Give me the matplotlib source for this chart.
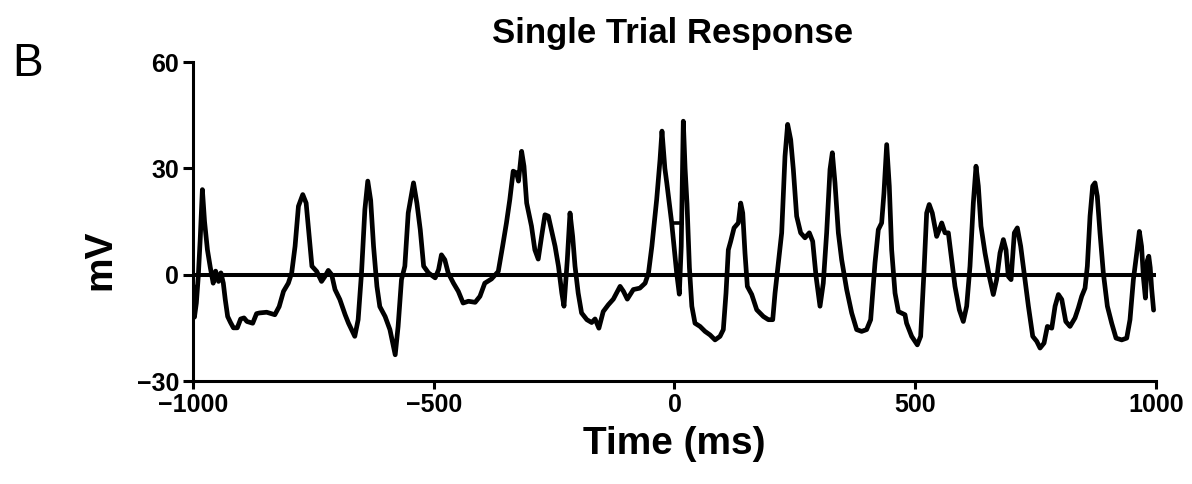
import matplotlib
matplotlib.use("Agg")
import matplotlib.pyplot as plt

plt.rcParams['font.family'] = ['Liberation Sans', 'DejaVu Sans']

# Membrane potential trace of one trial (time in ms, potential in mV)
time_ms = [
    -1000, -997, -993, -989, -985, -980.5, -976, -970, -964, -958, -953, -947,
    -942, -937, -933, -928, -922, -916, -908, -901, -894, -888, -876, -868,
    -862, -847, -830, -821, -812, -802, -795, -788, -781, -772, -765, -758,
    -753, -743, -733, -726, -719, -712, -705, -695, -684, -677, -664, -657,
    -650, -643, -637, -631, -625, -618, -612, -601, -591, -580, -574, -567,
    -560, -553, -542, -535, -528, -521, -511, -497, -490, -484, -477, -470,
    -459, -449, -439, -428, -414, -404, -394, -380, -366, -357, -349, -342,
    -335, -328, -324, -317.5, -312.6, -307, -297, -290, -283, -276, -269,
    -262, -255, -248, -241, -234, -229.5, -222.6, -217, -211.5, -206.6,
    -200, -193, -182, -172, -165, -157, -148, -137.5, -127, -113, -106,
    -98, -85.5, -72, -61, -54, -47, -37, -30, -26, -20, -16, -5.8, 4.5,
    10, 14, 18.3, 22, 26, 31, 36, 42.6, 53, 63.4, 73.8, 84.2, 94.5, 101.4,
    107, 111.8, 116.7, 123.7, 132.6, 137.5, 141.7, 146.4, 151.3, 160.4,
    170.8, 184.6, 195, 204, 208.8, 215.7, 222.6, 229.5, 235, 241.3, 246.8,
    253.7, 262, 271, 280, 287, 294, 302.2, 309, 316, 323, 327.8, 333.3,
    340.3, 347.2, 357.6, 368, 378.3, 388.7, 399, 407.4, 416.4, 423.3,
    430.2, 435, 440.7, 446.1, 451, 458, 465, 478.7, 482, 492.6, 504.3,
    511.2, 518, 523.7, 529, 535.4, 544.5, 550, 555, 561.8, 568.7, 575.6,
    582.5, 591.5, 599.8, 606.8, 613.7, 620.6, 626.2, 631, 636.5, 644.9,
    653.8, 662.1, 669, 676, 683, 688.5, 693.3, 699, 705.8, 712, 719, 726,
    735, 744, 752.3, 759.2, 767.5, 774.4, 783.5, 790.4, 797.3, 804.3,
    812.6, 821.4, 831.8, 838.7, 845.7, 852.6, 857.4, 863, 868.5, 873.3,
    878.1, 883.7, 890.6, 899, 908, 917, 928.8, 939.2, 946, 953, 960, 965.4,
    970, 974, 978, 982, 985, 988, 991, 995,
]
potential_mv = [
    -3, -12, -8, -0.5, 10, 24, 15, 7, 2, -2.4, 1, -1.9,
    0.5, -2.4, -7, -11.8, -13.5, -15, -15, -12.5, -12.2, -13.2, -13.7, -11,
    -10.8, -10.6, -11.3, -9, -4.7, -2.4, 0.5, 8, 19.3, 22.6, 20.2, 9.9,
    2.4, 0.9, -1.9, -0.5, 1.2, 0, -4.2, -7, -11.3, -13.7, -17.4, -12.7,
    0.5, 18.4, 26.4, 21, 8, -3.3, -9, -11.8, -15.5, -22.6, -14.6, -1.4,
    2.4, 17.4, 25.9, 20.2, 12.7, 2.4, 0.5, -0.9, 1.4, 5.6, 4.2, 0.5,
    -2.4, -4.7, -8, -7.5, -7.8, -6.1, -2.4, -1.2, 0.9, 8, 14.6, 21.2,
    29.2, 28.7, 26.4, 34.8, 30.6, 20.2, 13.7, 7, 4.4, 10.8, 16.9,
    16.5, 12.2, 8, 2.4, -5.2, -8.9, 4.2, 17.4, 10.8, 2.4,
    -5.2, -10.8, -12.7, -13.5, -12.5, -15.1, -10.4, -8.5, -6.9, -3.3, -4.7,
    -6.9, -4.2, -3.8, -2.4, 0.5, 8, 21.2, 32.5, 40.5, 30, 25.9, 14.6, 0.5,
    -5.5, 8, 43.3, 30, 20, 2, -8.9, -13.7, -14.6, -16, -17, -18.4, -17.4, -15.5,
    -5.2, 7, 9.4, 13.2, 14.6, 20.2, 17.4, 6.1, -3.3, -5.6,
    -9.9, -11.8, -12.7, -12.7, -5.2, 3.3, 11.8, 33.4, 42.4, 38.1, 29.7,
    16.5, 11.8, 10.4, 11.8, 9.4, -0.5, -8.9, -2.4, 11.8, 29.7, 34.4, 25.9,
    11.8, 4.2, -4.2, -10.8, -15.5, -16, -15.5, -12.7, 3.3, 12.7,
    14.6, 23, 36.7, 25, 7, -5.2, -10.4, -11.3, -13.7, -17.4, -19.8,
    -17.4, 0.5, 17.4, 19.8, 17.4, 10.8, 12.7, 14.6, 11.8, 11.8, 4.2,
    -3.3, -9.9, -13.2, -8.9, 2.4, 20.2, 30.6, 25, 13.7, 6.1,
    -0.5, -5.6, -1.4, 6.1, 9.9, 7, -0.5, -1.4, 11.8, 13.2, 8, 0.5,
    -8.9, -17.4, -18.8, -20.7, -19.3, -14.6, -15.1, -8.9, -5.6, -7,
    -13.2, -14.6, -12.2, -9.4, -6.1, -3.8, 2.4, 16.5, 25, 25.9,
    22.1, 11.8, 0.5, -8.9, -13.7, -17.9, -18.4, -17.9, -12.7, -1.4, 6.1, 12.2,
    8, -1, -6.6, 4, 5.2, 2, -4, -10,
]

# Short horizontal connector recorded just after stimulus onset
bridge_ms = [-5.8, 14.8]
bridge_mv = [14.6, 14.6]

x_ticks = [-1000, -500, 0, 500, 1000]
x_tick_labels = ['\u22121000', '\u2212500', '0', '500', '1000']
y_ticks = [-30, 0, 30, 60]
y_tick_labels = ['\u221230', '0', '30', '60']

fig = plt.figure(figsize=(11.92, 4.84), dpi=100)
ax = fig.add_axes([0.1619, 0.2128, 0.8079, 0.6591])

ax.axhline(0, color='black', lw=2.9, zorder=2)
ax.plot(time_ms, potential_mv, color='black', lw=3.4,
        solid_joinstyle='round', solid_capstyle='round', zorder=3)
ax.plot(bridge_ms, bridge_mv, color='black', lw=2.6, zorder=3)

ax.set_xlim(-1000, 1000)
ax.set_ylim(-30, 60)
ax.set_xticks(x_ticks)
ax.set_xticklabels(x_tick_labels)
ax.set_yticks(y_ticks)
ax.set_yticklabels(y_tick_labels)

for side in ('top', 'right'):
    ax.spines[side].set_visible(False)
for side in ('left', 'bottom'):
    ax.spines[side].set_linewidth(2.2)

ax.tick_params(direction='out', width=2.2, labelsize=18)
ax.tick_params(axis='x', length=6, pad=2.5)
ax.tick_params(axis='y', length=7, pad=3)
for lbl in ax.get_xticklabels() + ax.get_yticklabels():
    lbl.set_fontweight('bold')

ax.set_xlabel('Time (ms)', fontsize=28, fontweight='bold')
ax.set_ylabel('mV', fontsize=28, fontweight='bold')
ax.yaxis.set_label_coords(-0.077, 0.38)
ax.xaxis.set_label_coords(0.5, -0.14)

fig.text(0.5643, 0.930, 'Single Trial Response', fontsize=25, fontweight='bold',
         ha='center', va='center')
fig.text(0.0105, 0.868, 'B', fontsize=33, ha='left', va='center')

fig.savefig('out.png', dpi=100)
